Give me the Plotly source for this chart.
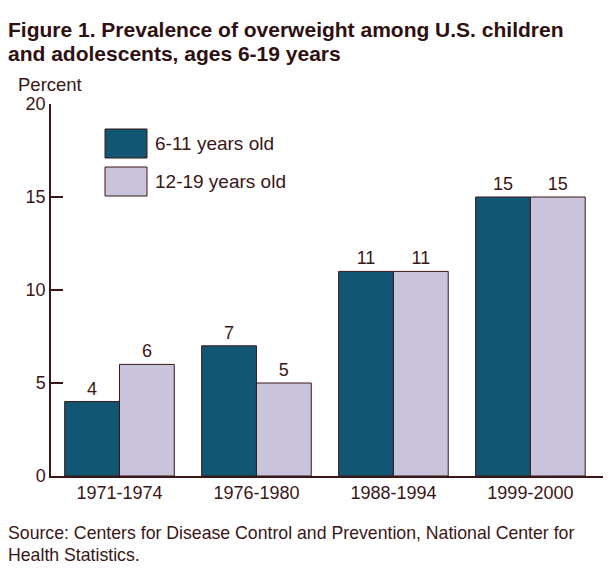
import plotly.graph_objects as go

# data
periods = ['1971-1974', '1976-1980', '1988-1994', '1999-2000']
series_names = ['6-11 years old', '12-19 years old']
ages_6_11 = [4, 7, 11, 15]
ages_12_19 = [6, 5, 11, 15]
y_ticks = [0, 5, 10, 15, 20]

DARK = '#115673'
LIGHT = '#c9c3dc'
INK = '#3a1616'
FONT = 'Liberation Sans, Arial, sans-serif'

# the page body adds an 8px margin, so the figure is 8px smaller
OFF = 8
W, H = 612 - OFF, 574 - OFF
L, R, T, B = 51 - OFF, 9, 104 - OFF, 98


def px(x):
    # screenshot pixel -> paper x
    return (x - OFF - L) / (W - L - R)


def py(y):
    # screenshot pixel -> paper y
    return (H - B - (y - OFF)) / (H - T - B)


fig = go.Figure()
for name, vals, col in [(series_names[0], ages_6_11, DARK), (series_names[1], ages_12_19, LIGHT)]:
    fig.add_trace(go.Bar(
        x=periods, y=vals, name=name,
        marker=dict(color=col, line=dict(color=INK, width=1)),
        text=[str(v) for v in vals], textposition='outside', cliponaxis=False,
        textfont=dict(size=18, color=INK, family=FONT),
        showlegend=False,
    ))

fig.update_layout(
    width=W, height=H,
    margin=dict(l=L, r=R, t=T, b=B),
    paper_bgcolor='white', plot_bgcolor='white',
    barmode='group', bargap=0.2, bargroupgap=0,
    font=dict(family=FONT, color=INK, size=18),
    xaxis=dict(range=[-0.5, 3.53], showline=True, linecolor=INK, linewidth=1.5,
               ticks='', showgrid=False, tickfont=dict(size=18)),
    yaxis=dict(range=[0, 20], tickvals=y_ticks, showline=True, linecolor=INK, linewidth=1.5,
               ticks='inside', ticklen=12, tickcolor=INK, tickwidth=1.5,
               showgrid=False, zeroline=False, tickfont=dict(size=18)),
)

# legend drawn by hand to get the large swatches
for i, (name, col) in enumerate([(series_names[0], DARK), (series_names[1], LIGHT)]):
    top = 129 + i * 38
    fig.add_shape(type='rect', xref='paper', yref='paper',
                  x0=px(105), x1=px(147), y0=py(top), y1=py(top + 29),
                  fillcolor=col, line=dict(color=INK, width=1))
    fig.add_annotation(xref='paper', yref='paper', x=px(153), y=py(top + 14.5),
                       text=name, showarrow=False, xanchor='left', yanchor='middle',
                       font=dict(size=19, color=INK))

title_lines = ['Figure 1. Prevalence of overweight among U.S. children',
               'and adolescents, ages 6-19 years']
for line, yc in zip(title_lines, [30, 54]):
    fig.add_annotation(xref='paper', yref='paper', x=px(6), y=py(yc),
                       text='<b>' + line + '</b>', showarrow=False,
                       xanchor='left', yanchor='middle',
                       font=dict(size=21, color='#2e1010'))

fig.add_annotation(xref='paper', yref='paper', x=px(16), y=py(84),
                   text='Percent', showarrow=False, xanchor='left', yanchor='middle',
                   font=dict(size=18.5, color=INK))

source_lines = ['Source: Centers for Disease Control and Prevention, National Center for',
                'Health Statistics.']
for line, yc in zip(source_lines, [533, 555]):
    fig.add_annotation(xref='paper', yref='paper', x=px(6), y=py(yc),
                       text=line, showarrow=False, xanchor='left', yanchor='middle',
                       font=dict(size=17.7, color=INK))

fig.write_html('out.html')
